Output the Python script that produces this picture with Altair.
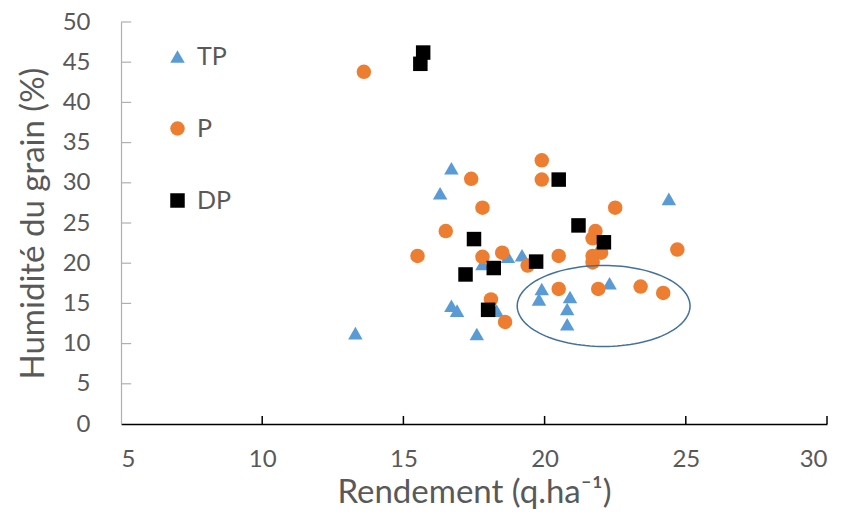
import altair as alt
import numpy as np
import pandas as pd

# ---- data ----
series = ["TP", "P", "DP"]
colors = ["#5B9BD5", "#ED7D31", "#000000"]
shapes = ["triangle-up", "circle", "square"]

tp_x = [13.3, 16.7, 16.3, 17.8, 18.7, 19.2, 16.7, 16.9, 18.3, 17.6, 19.9, 19.8, 20.9, 20.8, 20.8, 22.3, 24.4]
tp_y = [11.3, 31.8, 28.7, 19.9, 20.8, 21.0, 14.7, 14.1, 14.1, 11.2, 16.8, 15.5, 15.8, 14.3, 12.4, 17.5, 28.0]

p_x = [13.6, 15.5, 19.9, 19.9, 17.4, 17.8, 16.5, 17.8, 18.5, 19.4, 20.5, 20.5, 18.1, 18.6,
       22.5, 21.8, 21.7, 21.7, 22.0, 21.7, 24.7, 21.9, 23.4, 24.2]
p_y = [43.8, 20.9, 32.8, 30.4, 30.5, 26.9, 24.0, 20.8, 21.3, 19.7, 20.9, 16.8, 15.5, 12.7,
       26.9, 24.0, 23.1, 20.9, 21.3, 20.1, 21.7, 16.8, 17.1, 16.3]

dp_x = [15.7, 15.6, 20.5, 21.2, 17.5, 18.2, 17.2, 19.7, 18.0, 22.1]
dp_y = [46.2, 44.8, 30.4, 24.7, 23.0, 19.4, 18.6, 20.2, 14.2, 22.6]

x_ticks = [5, 10, 15, 20, 25, 30]
y_ticks = [0, 5, 10, 15, 20, 25, 30, 35, 40, 45, 50]

# annotation ellipse (centre x, centre y, half-width, half-height in data units)
ellipse = [22.09, 14.68, 3.06, 5.04]

# ---- tables ----
rows = []
for name, xs, ys in [("TP", tp_x, tp_y), ("P", p_x, p_y), ("DP", dp_x, dp_y)]:
    rows += [{"serie": name, "x": a, "y": b} for a, b in zip(xs, ys)]
df = pd.DataFrame(rows)

t = np.linspace(0, 2 * np.pi, 121)
ell_df = pd.DataFrame({
    "x": ellipse[0] + ellipse[2] * np.cos(t),
    "y": ellipse[1] + ellipse[3] * np.sin(t),
    "o": np.arange(len(t)),
})

xt_df = pd.DataFrame({"x": x_ticks[1:], "y": 0.0, "y2": 1.0})
yt_df = pd.DataFrame({"y": y_ticks[1:], "x": 5.0, "x2": 5.36})

GRAY = "#595959"
FONT = "Lato"

x_scale = alt.Scale(domain=[5, 30], nice=False, zero=False)
y_scale = alt.Scale(domain=[0, 50], nice=False)

x_axis = alt.Axis(
    values=x_ticks, title="Rendement (q.ha\u207b\u00b9)", grid=False, ticks=False, tickSize=0,
    domainColor="#000000", domainWidth=1.5, labelFontSize=24, labelColor=GRAY, labelFont=FONT,
    labelPadding=23, titleFontSize=33, titleColor=GRAY, titleFont=FONT, titleFontWeight="normal",
    titlePadding=5)
y_axis = alt.Axis(
    values=y_ticks, title="Humidité du grain (%)", grid=False, ticks=False, tickSize=0,
    domainColor="#B0B0B0", domainWidth=1.2, labelFontSize=24, labelColor=GRAY, labelFont=FONT,
    labelPadding=31, titleFontSize=33, titleColor=GRAY, titleFont=FONT, titleFontWeight="normal",
    titlePadding=12)

X = alt.X("x:Q", scale=x_scale, axis=x_axis)
Y = alt.Y("y:Q", scale=y_scale, axis=y_axis)

points = alt.Chart(df).mark_point(filled=True, opacity=1, strokeWidth=0).encode(
    x=X, y=Y,
    color=alt.Color("serie:N", scale=alt.Scale(domain=series, range=colors), legend=alt.Legend(
        title=None, orient="none", legendX=44, legendY=22, rowPadding=46, labelFontSize=25,
        labelColor=GRAY, labelFont=FONT, symbolSize=110, labelOffset=7, padding=0,
        symbolStrokeWidth=0)),
    shape=alt.Shape("serie:N", scale=alt.Scale(domain=series, range=shapes)),
    size=alt.Size("serie:N", scale=alt.Scale(domain=series, range=[210, 210, 180]), legend=None),
)

ell = alt.Chart(ell_df).mark_line(color="#41719C", strokeWidth=1.5).encode(
    x=X, y=Y, order="o:Q",
)

xticks = alt.Chart(xt_df).mark_rule(color="#000000", strokeWidth=1.5).encode(
    x=X, y=Y, y2="y2:Q",
)

yticks = alt.Chart(yt_df).mark_rule(color="#B0B0B0", strokeWidth=1.2).encode(
    x=X, y=Y, x2="x2:Q",
)

chart = alt.layer(points, yticks, xticks, ell).properties(
    width=706, height=402,
    autosize="none",
    padding={"left": 121, "top": 22, "right": 17, "bottom": 90},
).configure(font=FONT).configure_view(stroke=None)

chart.save("out.html", embed_options={"renderer": "svg", "actions": False})
